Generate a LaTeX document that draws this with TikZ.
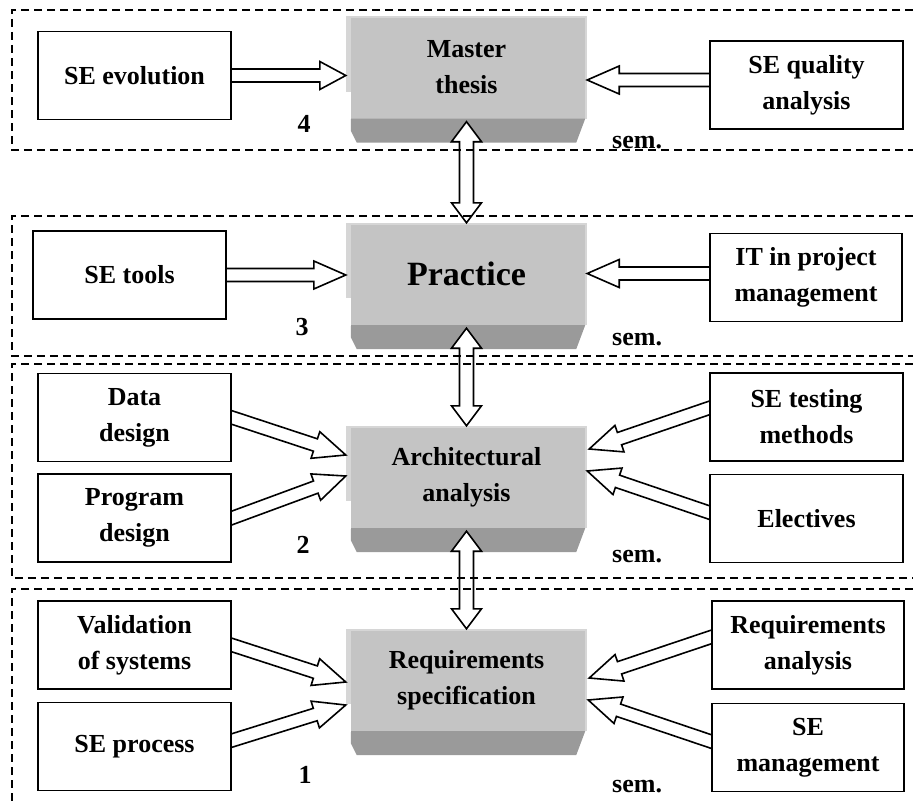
\documentclass[tikz,border=0pt]{standalone}
\usepackage{fontspec}
\setmainfont{Liberation Serif}
\usetikzlibrary{calc}
\pgfdeclarelayer{mid}
\pgfsetlayers{mid,main}
\definecolor{lightg}{HTML}{C4C4C4}
\definecolor{darkg}{HTML}{9A9A9A}
\definecolor{stripg}{HTML}{D6D6D6}
\tikzset{
  semframe/.style={dash pattern=on 8pt off 5pt, line width=1.3pt},
  wbox/.style={draw, line width=1.8pt, fill=white, minimum width=193pt, minimum height=88pt,
    align=center, inner sep=0pt, font=\fontsize{26}{36}\selectfont\bfseries},
  gbox/.style={fill=lightg, minimum width=241pt, minimum height=102pt,
    align=center, inner sep=0pt, font=\fontsize{26}{36}\selectfont\bfseries},
  lbl/.style={font=\fontsize{26}{30}\selectfont\bfseries, anchor=base, inner sep=0pt},
  arrowline/.style={draw, fill=white, line width=1.6pt, line join=miter},
}
\newcommand\fatarrow[3][32pt]{%
  \path ($(#3)!#1!(#2)$) coordinate (hb) ($(#2)!-8pt!(#3)$) coordinate (st);
  \path[arrowline] ($(st)!6.5pt!90:(#3)$) -- ($(hb)!6.5pt!90:(#3)$) -- ($(hb)!14pt!90:(#3)$)
    -- (#3) -- ($(hb)!14pt!-90:(#3)$) -- ($(hb)!6.5pt!-90:(#3)$) -- ($(st)!6.5pt!-90:(#3)$);
}
\newcommand\dblarrow[2]{%
  \path ($(#2)!20pt!(#1)$) coordinate (hbA) ($(#1)!20pt!(#2)$) coordinate (hbB);
  \path[arrowline] (#1) -- ($(hbB)!15pt!90:(#2)$) -- ($(hbB)!7pt!90:(#2)$) -- ($(hbA)!7pt!90:(#2)$)
    -- ($(hbA)!15pt!90:(#2)$) -- (#2) -- ($(hbA)!15pt!-90:(#2)$) -- ($(hbA)!7pt!-90:(#2)$)
    -- ($(hbB)!7pt!-90:(#2)$) -- ($(hbB)!15pt!-90:(#2)$) -- cycle;
}
\newcommand\grayextras[1]{%
  \fill[darkg] ($(#1.south west)+(5,0)$) -- ++(0,12) -- ++(6,12) -- ($(#1.south east)+(-11,24)$)
    -- ($(#1.south east)+(-2,0)$) -- cycle;
  \fill[white] ($(#1.south west)+(0,-27)$) rectangle ($(#1.south west)+(5,0.5)$);
  \fill[stripg] (#1.north west) rectangle ($(#1.south west)+(5,-27)$);
  \fill[stripg] ($(#1.north east)+(-2,0)$) rectangle (#1.south east);
  \fill[stripg] (#1.north west) rectangle ($(#1.north east)+(0,2)$);
}
\begin{document}
\begin{tikzpicture}[x=1pt,y=-1pt]
\useasboundingbox (0,0) rectangle (913,803);
% semester frames
\draw[semframe] (913,10) -- (12,10) -- (12,150) -- (913,150);
\draw[semframe] (913,216) -- (12,216) -- (12,356) -- (913,356);
\draw[semframe] (913,364) -- (12,364) -- (12,578) -- (913,578);
\draw[semframe] (913,589) -- (12,589) -- (12,803);
% white boxes
\node[wbox] (evo) at (134.5,75.5) {SE evolution};
\node[wbox] (qual) at (806.5,85) {SE quality\\analysis};
\node[wbox] (tools) at (129.5,275) {SE tools};
\node[wbox, minimum width=192pt] (itpm) at (806,277.5) {IT in project\\management};
\node[wbox] (data) at (134.5,417.5) {Data\\design};
\node[wbox] (prog) at (134.5,518) {Program\\design};
\node[wbox] (test) at (806.5,417) {SE testing\\methods};
\node[wbox] (elec) at (806.5,518.5) {Electives};
\node[wbox] (valid) at (134.5,645) {Validation\\of systems};
\node[wbox] (proc) at (134.5,746.5) {SE process};
\node[wbox, minimum width=192pt] (reqa) at (808,645) {Requirements\\analysis};
\node[wbox, minimum width=192pt] (mgmt) at (808,747.5) {SE\\management};
% labels
\node[lbl] (n4) at (304,132) {4};
\node[lbl, anchor=base west] (s4) at (612,148) {sem.};
\node[lbl] (n3) at (302,335) {3};
\node[lbl, anchor=base west] (s3) at (612,345) {sem.};
\node[lbl] (n2) at (303,553) {2};
\node[lbl, anchor=base west] (s2) at (612,562) {sem.};
\node[lbl] (n1) at (305,783) {1};
\node[lbl, anchor=base west] (s1) at (612,792) {sem.};
\begin{pgfonlayer}{mid}
% central gray boxes
\node[gbox] (master) at (466.5,67.5) {Master\\thesis};
\grayextras{master}
\node[gbox, font=\fontsize{34}{40}\selectfont\bfseries] (prac) at (466.5,274) {Practice};
\grayextras{prac}
\node[gbox] (arch) at (466.5,477) {Architectural\\analysis};
\grayextras{arch}
\node[gbox] (req) at (466.5,680) {Requirements\\specification};
\grayextras{req}
% arrow end points
\coordinate (e1) at (evo.east -| master.west);
\coordinate (q0) at ($(qual.west)+(0,-5)$);
\coordinate (q1) at (q0 -| master.east);
\coordinate (t1) at (tools.east -| prac.west);
\coordinate (i0) at ($(itpm.west)+(0,-4)$);
\coordinate (i1) at (i0 -| prac.east);
\coordinate (d1) at ($(arch.west)+(0,-22)$);
\coordinate (p1) at ($(arch.west)+(0,-1)$);
\coordinate (tm0) at ($(test.west)+(0,-9)$);
\coordinate (tm1) at ($(arch.east)+(2,-28)$);
\coordinate (el0) at ($(elec.west)+(0,-6)$);
\coordinate (el1) at ($(arch.east)+(0,-6)$);
\coordinate (v1) at ($(req.west)+(0,2)$);
\coordinate (pr0) at ($(proc.east)+(0,-6)$);
\coordinate (pr1) at ($(req.west)+(0,25)$);
\coordinate (ra0) at ($(reqa.west)+(0,-8)$);
\coordinate (ra1) at ($(req.east)+(2,-2)$);
\coordinate (m0) at ($(mgmt.west)+(0,-6)$);
\coordinate (m1) at ($(req.east)+(1,20)$);
\coordinate (mA) at ($(master.south)+(0,3)$);
\coordinate (pA) at ($(prac.south)+(0,3)$);
\coordinate (aA) at ($(arch.south)+(0,3)$);
% arrows
\fatarrow[26pt]{evo.east}{e1}
\fatarrow{q0}{q1}
\fatarrow{tools.east}{t1}
\fatarrow{i0}{i1}
\fatarrow{data.east}{d1}
\fatarrow{prog.east}{p1}
\fatarrow{tm0}{tm1}
\fatarrow{el0}{el1}
\fatarrow{valid.east}{v1}
\fatarrow{pr0}{pr1}
\fatarrow{ra0}{ra1}
\fatarrow{m0}{m1}
\dblarrow{mA}{prac.north}
\dblarrow{pA}{arch.north}
\dblarrow{aA}{req.north}
\end{pgfonlayer}
\end{tikzpicture}
\end{document}
